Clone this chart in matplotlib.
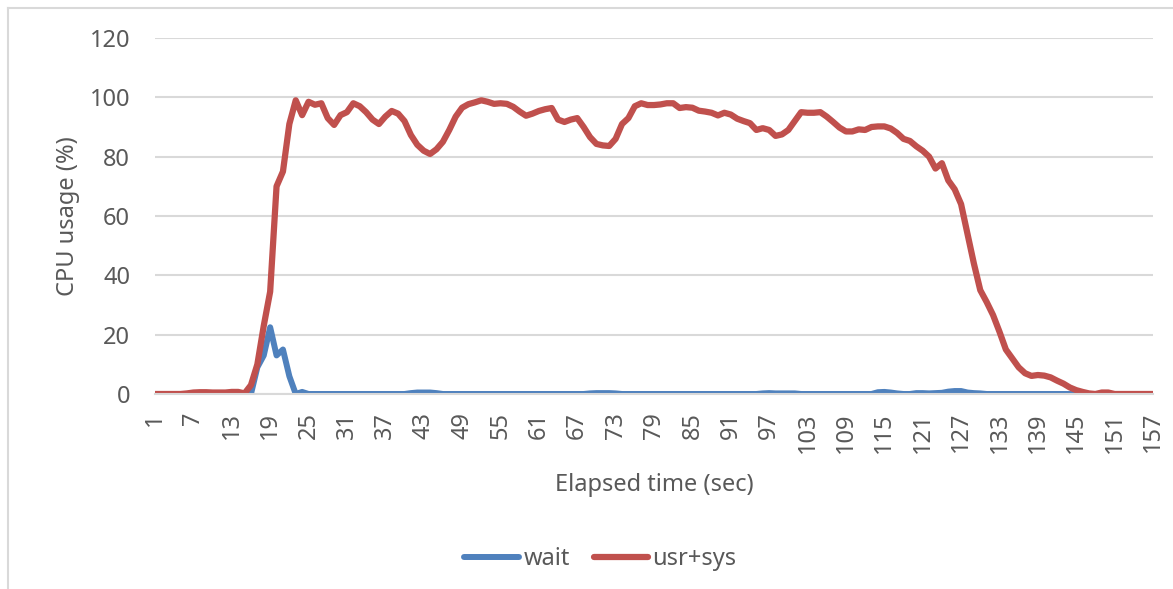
import matplotlib
matplotlib.use('Agg')
import matplotlib.pyplot as plt
from matplotlib.lines import Line2D
import numpy as np

from matplotlib import rcParams
rcParams['font.family'] = ['Noto Sans', 'DejaVu Sans']
rcParams['font.size'] = 17

# one sample per second
seconds = np.arange(1, 158)

wait = [
    0, 0, 0, 0, 0, 0, 0, 0, 0, 0,                      # 1-10
    0, 0, 0, 0, 0, 0, 9, 13, 22.5, 13,                 # 11-20
    15, 6, 0, 0.7, 0, 0, 0, 0, 0, 0,                   # 21-30
    0, 0, 0, 0, 0, 0, 0, 0, 0, 0,                      # 31-40
    0.3, 0.5, 0.5, 0.5, 0.3, 0, 0, 0, 0, 0,            # 41-50
    0, 0, 0, 0, 0, 0, 0, 0, 0, 0,                      # 51-60
    0, 0, 0, 0, 0, 0, 0, 0, 0.2, 0.3,                  # 61-70
    0.3, 0.3, 0.2, 0, 0, 0, 0, 0, 0, 0,                # 71-80
    0, 0, 0, 0, 0, 0, 0, 0, 0, 0,                      # 81-90
    0, 0, 0, 0, 0, 0.2, 0.3, 0.2, 0.2, 0.2,            # 91-100
    0.2, 0, 0, 0, 0, 0, 0, 0, 0, 0,                    # 101-110
    0, 0, 0, 0.6, 0.7, 0.5, 0.2, 0, 0, 0.3,            # 111-120
    0.3, 0.2, 0.3, 0.4, 0.8, 1.0, 1.0, 0.5, 0.3, 0.2,  # 121-130
    0, 0, 0, 0, 0, 0, 0, 0, 0, 0,                      # 131-140
    0, 0, 0, 0, 0, 0, 0, 0, 0, 0,                      # 141-150
    0, 0, 0, 0, 0, 0, 0,                               # 151-157
]

usr_sys = [
    0, 0, 0, 0, 0, 0.2, 0.5, 0.6, 0.6, 0.5,            # 1-10
    0.5, 0.5, 0.7, 0.7, 0.2, 3, 10, 23, 34.5, 70,      # 11-20
    75, 91, 99, 94, 98.5, 97.5, 98, 93, 90.7, 94,      # 21-30
    95, 98, 97, 95, 92.5, 91, 93.5, 95.4, 94.5, 92,    # 31-40
    87.3, 84, 82, 80.9, 82.5, 85, 89, 93.5, 96.5, 97.7,  # 41-50
    98.3, 99, 98.5, 97.8, 98, 97.8, 96.8, 95.2, 93.8, 94.5,  # 51-60
    95.4, 96, 96.4, 92.5, 91.7, 92.5, 93, 90, 86.6, 84.3,  # 61-70
    83.8, 83.6, 86, 91, 93, 97, 98, 97.4, 97.4, 97.6,  # 71-80
    98, 98, 96.4, 96.7, 96.5, 95.5, 95.2, 94.8, 93.9, 94.8,  # 81-90
    94.2, 92.8, 92, 91.3, 89, 89.6, 89, 87, 87.5, 89,  # 91-100
    92, 95, 94.8, 94.8, 95, 93.5, 91.7, 89.8, 88.5, 88.5,  # 101-110
    89.2, 89, 90, 90.2, 90.2, 89.5, 88, 86, 85.3, 83.5,  # 111-120
    82, 80, 76, 77.8, 72, 69, 64, 54, 44, 35,          # 121-130
    31, 26.6, 21, 15, 12, 9, 7, 6.1, 6.4, 6.2,         # 131-140
    5.6, 4.5, 3.5, 2.2, 1.3, 0.7, 0.2, 0, 0.5, 0.5,    # 141-150
    0, 0, 0, 0, 0, 0, 0,                               # 151-157
]

blue = '#4F81BD'
red = '#C0504D'
text_grey = '#595959'

fig = plt.figure(figsize=(11.73, 5.89), dpi=100)
ax = fig.add_axes([155 / 1173, 1 - 394 / 589, 998 / 1173, 356 / 589])

ax.plot(seconds, wait, color=blue, lw=4.3, solid_capstyle='round', solid_joinstyle='round', label='wait')
ax.plot(seconds, usr_sys, color=red, lw=4.5, solid_capstyle='round', solid_joinstyle='round', label='usr+sys')

ax.set_xlim(1, 157)
ax.set_ylim(0, 120)
ax.set_yticks(range(0, 121, 20))
ax.set_xticks(seconds[::6])
ax.tick_params(axis='x', labelrotation=90, length=0, pad=13, colors=text_grey)
ax.tick_params(axis='y', length=0, pad=18, colors=text_grey)

ax.grid(axis='y', color='#D9D9D9', lw=1.5)
ax.set_axisbelow(True)
for side in ['top', 'right', 'left']:
    ax.spines[side].set_visible(False)
ax.spines['bottom'].set_color('#D9D9D9')
ax.spines['bottom'].set_linewidth(1.5)

ax.set_ylabel('CPU usage (%)', color=text_grey, labelpad=7)
ax.set_xlabel('Elapsed time (sec)', color=text_grey, labelpad=15)

handles, labels = ax.get_legend_handles_labels()
fig.legend(handles, labels, loc='center', bbox_to_anchor=(0.512, 0.051), ncol=2,
           frameon=False, handlelength=2.3, handletextpad=0.2, columnspacing=1.0,
           labelcolor=text_grey)

# chart area border, left and top edges
fig.add_artist(Line2D([7.5 / 1173, 7.5 / 1173], [0, 1 - 8 / 589], color='#D9D9D9', lw=1.5))
fig.add_artist(Line2D([7.5 / 1173, 1], [1 - 8 / 589, 1 - 8 / 589], color='#D9D9D9', lw=1.5))

fig.savefig('out.png', dpi=100)
